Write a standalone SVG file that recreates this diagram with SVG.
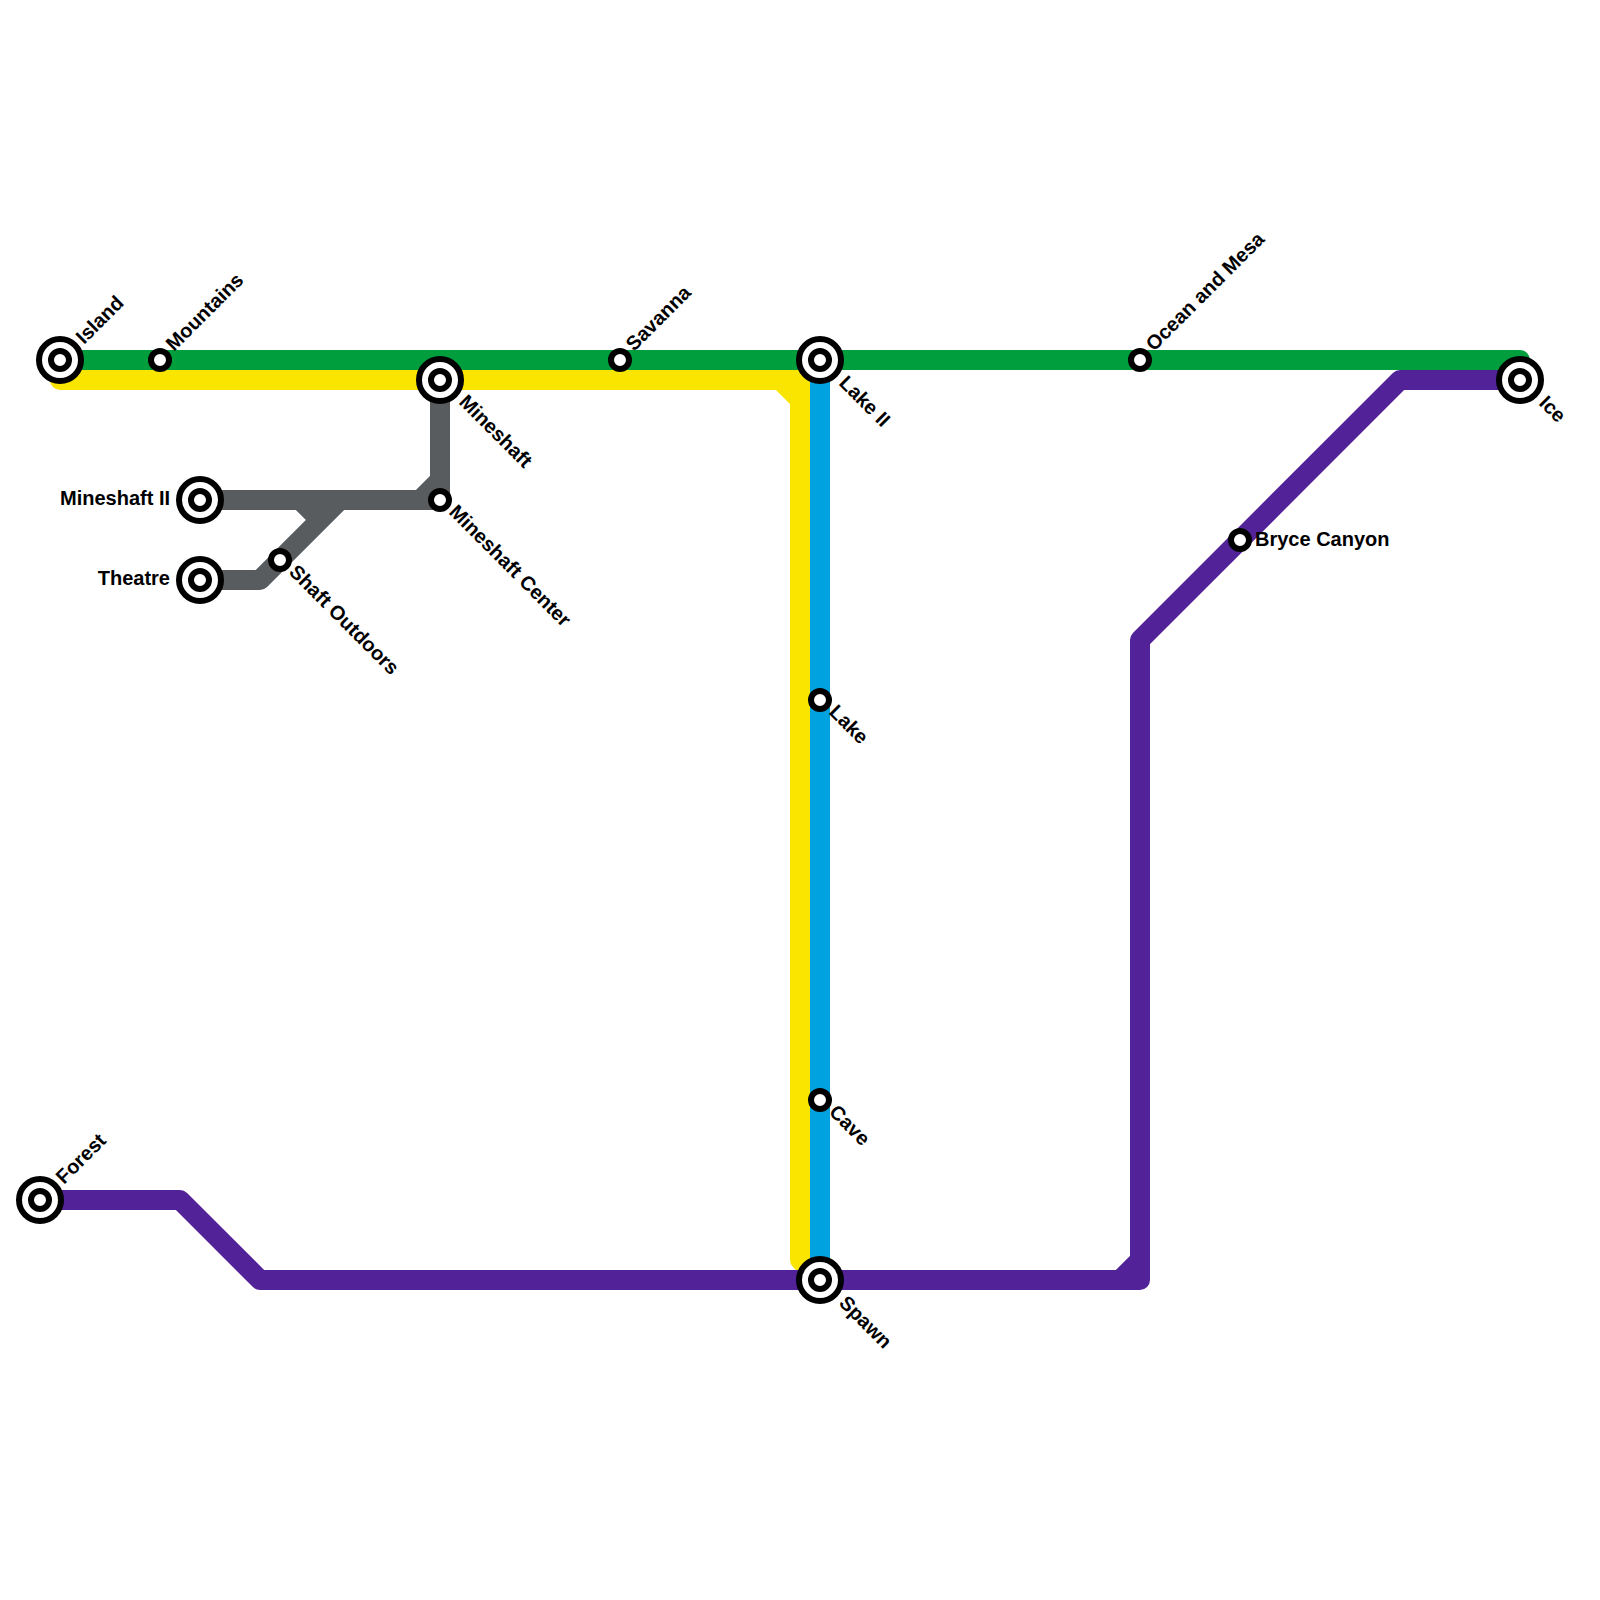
<svg xmlns="http://www.w3.org/2000/svg" width="1600" height="1600" viewBox="0 0 1600 1600">
<style>
.l{fill:none;stroke-width:20;stroke-linejoin:round;stroke-linecap:butt}
.g{stroke:#009e3d}.y{stroke:#fae500}.b{stroke:#00a3e0}.p{stroke:#522398}.k{stroke:#585c5f}
.o{fill:#fff;stroke:#000;stroke-width:6}
text{font-family:"Liberation Sans",Arial,sans-serif;font-weight:700;font-size:20px;fill:#000}
</style>
<defs>
<g id="big"><circle class="o" r="21"/><circle class="o" r="9"/></g>
<circle id="small" class="o" r="9"/>
</defs>
<rect width="1600" height="1600" fill="#fff"/>
<g id="connectors">
<path class="l k" d="M200 500H440M440 380V480L420 500H440V480M200 580H260L340 500M300 500L320 520"/>
<path class="l y" d="M60 360V380H780L800 400V1260L820 1280M780 380H800V400"/>
<path class="l g" d="M60 360H1520V380"/>
<path class="l b" d="M820 360V1280"/>
<path class="l p" d="M40 1200H180L260 1280H1120L1140 1260V640L1400 380H1520M1120 1280H1140V1260"/>
</g>
<g id="island"><use href="#big" x="60" y="360"/><text transform="translate(84 345) rotate(-45)">Island</text></g>
<g id="mountains"><use href="#small" x="160" y="360"/><text transform="translate(174 352) rotate(-45)">Mountains</text></g>
<g id="mineshaft"><use href="#big" x="440" y="380"/><text transform="translate(458 403) rotate(45)">Mineshaft</text></g>
<g id="savanna"><use href="#small" x="620" y="360"/><text transform="translate(634 352) rotate(-45)">Savanna</text></g>
<g id="lake-ii"><use href="#big" x="820" y="360"/><text transform="translate(838 384) rotate(45)">Lake II</text></g>
<g id="ocean-and-mesa"><use href="#small" x="1140" y="360"/><text transform="translate(1154 352) rotate(-45)">Ocean and Mesa</text></g>
<g id="ice"><use href="#big" x="1520" y="380"/><text transform="translate(1538 404) rotate(45)">Ice</text></g>
<g id="mineshaft-ii"><use href="#big" x="200" y="500"/><text x="170" y="505" text-anchor="end">Mineshaft II</text></g>
<g id="theatre"><use href="#big" x="200" y="580"/><text x="170" y="585" text-anchor="end">Theatre</text></g>
<g id="shaft-outdoors"><use href="#small" x="280" y="560"/><text transform="translate(288 573) rotate(45)">Shaft Outdoors</text></g>
<g id="mineshaft-center"><use href="#small" x="440" y="500"/><text transform="translate(448 513) rotate(45)">Mineshaft Center</text></g>
<g id="bryce-canyon"><use href="#small" x="1240" y="540"/><text x="1255" y="546">Bryce Canyon</text></g>
<g id="lake"><use href="#small" x="820" y="700"/><text transform="translate(828 713) rotate(45)">Lake</text></g>
<g id="cave"><use href="#small" x="820" y="1100"/><text transform="translate(828 1113) rotate(45)">Cave</text></g>
<g id="spawn"><use href="#big" x="820" y="1280"/><text transform="translate(838 1304) rotate(45)">Spawn</text></g>
<g id="forest"><use href="#big" x="40" y="1200"/><text transform="translate(64 1185) rotate(-45)">Forest</text></g>
</svg>
